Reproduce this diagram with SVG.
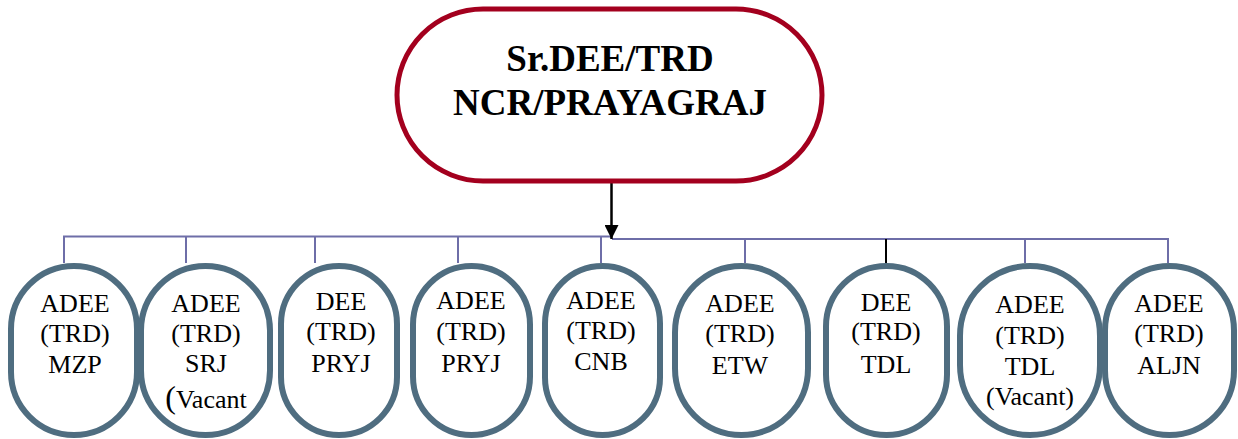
<svg xmlns="http://www.w3.org/2000/svg" width="1238" height="439" viewBox="0 0 1238 439">
<style>
.pill{fill:#fff;stroke:#4F6D80;stroke-width:6}
.top{fill:#fff;stroke:#A3001E;stroke-width:5}
.t{font-family:"Liberation Serif","Times New Roman",serif;font-size:26px;fill:#000;text-anchor:middle}
.tb{font-family:"Liberation Serif","Times New Roman",serif;font-size:37px;font-weight:bold;fill:#000;text-anchor:middle}
.bus{stroke:#6E6EA8;stroke-width:2;fill:none}
</style>
<defs>
<marker id="ah" viewBox="0 0 10 10" refX="10" refY="5" markerWidth="14" markerHeight="14" markerUnits="userSpaceOnUse" orient="auto">
<path d="M0,0 L10,5 L0,10 z" fill="#000"/>
</marker>
</defs>
<g id="connectors">
<path class="bus" d="M64,263 V236.5 H612 M612,239 H1168 V263"/>
<path class="bus" d="M186,236.5 V263 M315,236.5 V263 M458,236.5 V263 M601,236.5 V263 M745,239 V263 M1025,239 V263"/>
<path d="M886,239 V263" stroke="#000" stroke-width="2"/>
<path d="M611.5,183 V239" stroke="#000" stroke-width="2.5" marker-end="url(#ah)"/>
</g>
<g id="top">
<rect class="top" x="397" y="9" width="425" height="172" rx="86" ry="86"/>
<text class="tb" x="610" y="71">Sr.DEE/TRD</text>
<text class="tb" x="610" y="115">NCR/PRAYAGRAJ</text>
</g>
<g id="n1">
<rect class="pill" x="11" y="266" width="126" height="169" rx="63" ry="63"/>
<text class="t" x="75" y="312">ADEE</text><text class="t" x="75" y="342">(TRD)</text><text class="t" x="75" y="373">MZP</text>
</g>
<g id="n2">
<rect class="pill" x="141" y="266" width="129" height="169" rx="64.5" ry="64.5"/>
<text class="t" x="206" y="312">ADEE</text><text class="t" x="206" y="342">(TRD)</text><text class="t" x="206" y="372">SRJ</text>
<text class="t" x="206" y="408"><tspan font-size="32">(</tspan>Vacant</text>
</g>
<g id="n3">
<rect class="pill" x="281" y="266" width="116" height="169" rx="58" ry="58"/>
<text class="t" x="341" y="310">DEE</text><text class="t" x="341" y="340">(TRD)</text><text class="t" x="341" y="372">PRYJ</text>
</g>
<g id="n4">
<rect class="pill" x="413" y="266" width="117" height="169" rx="58.5" ry="58.5"/>
<text class="t" x="471" y="309">ADEE</text><text class="t" x="471" y="340">(TRD)</text><text class="t" x="471" y="372">PRYJ</text>
</g>
<g id="n5">
<rect class="pill" x="545" y="266" width="115" height="169" rx="57.5" ry="57.5"/>
<text class="t" x="601" y="309">ADEE</text><text class="t" x="601" y="339">(TRD)</text><text class="t" x="601" y="370">CNB</text>
</g>
<g id="n6">
<rect class="pill" x="675" y="266" width="133" height="169" rx="66.5" ry="66.5"/>
<text class="t" x="740" y="312">ADEE</text><text class="t" x="740" y="342">(TRD)</text><text class="t" x="740" y="374">ETW</text>
</g>
<g id="n7">
<rect class="pill" x="826" y="266" width="121" height="169" rx="60.5" ry="60.5"/>
<text class="t" x="886" y="311">DEE</text><text class="t" x="886" y="340">(TRD)</text><text class="t" x="886" y="373">TDL</text>
</g>
<g id="n8">
<rect class="pill" x="960" y="266" width="140" height="169" rx="70" ry="70"/>
<text class="t" x="1030" y="313">ADEE</text><text class="t" x="1030" y="344">(TRD)</text><text class="t" x="1030" y="375">TDL</text><text class="t" x="1030" y="405">(Vacant)</text>
</g>
<g id="n9">
<rect class="pill" x="1105" y="266" width="129" height="169" rx="64.5" ry="64.5"/>
<text class="t" x="1169" y="312">ADEE</text><text class="t" x="1169" y="342">(TRD)</text><text class="t" x="1169" y="374">ALJN</text>
</g>
</svg>
